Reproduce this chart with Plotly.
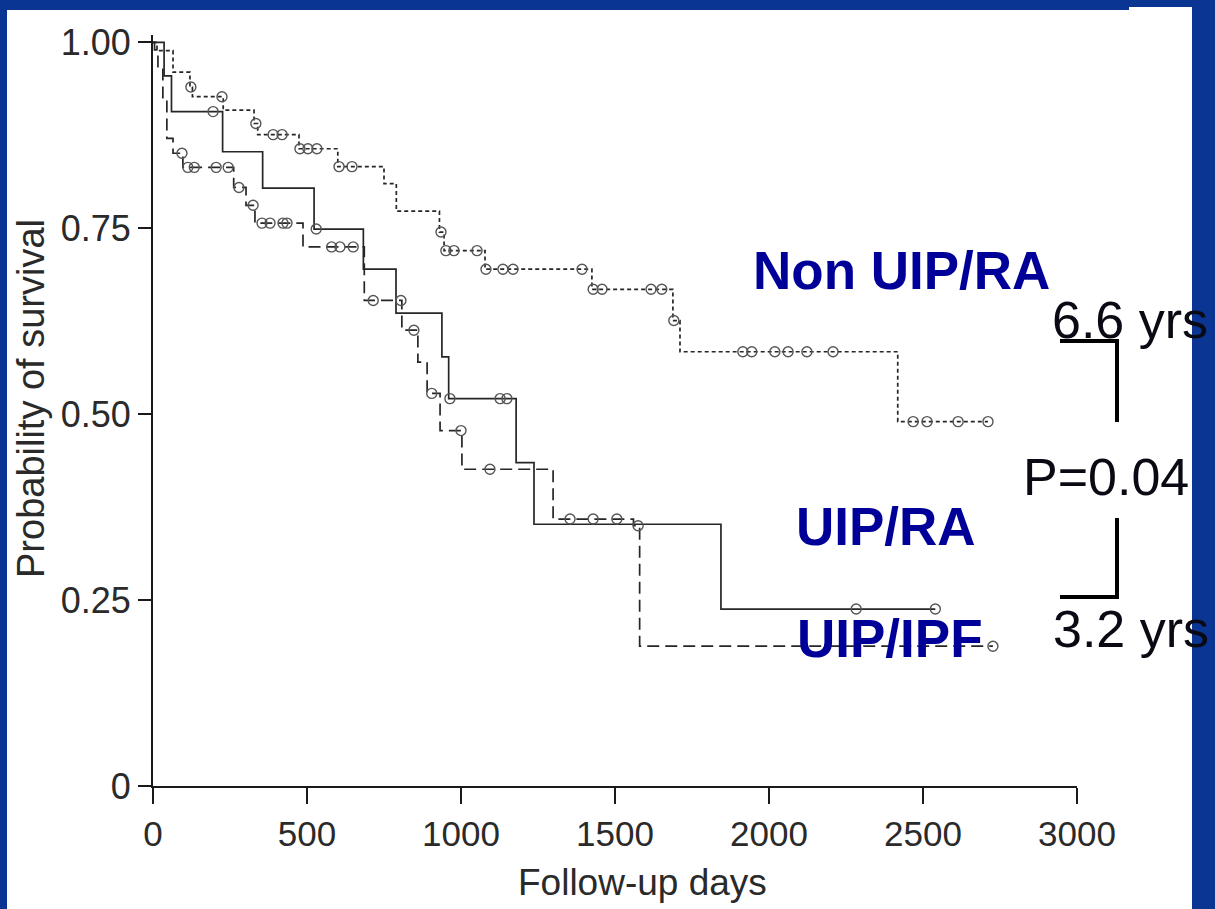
import plotly.graph_objects as go

# ---------------- data ----------------
# Non UIP/RA  (short dashes)
nonuip_t = [0, 13, 65, 120, 128, 228, 328, 340, 474, 600, 750, 790, 930, 945, 1078, 1425, 1688, 1711, 2418]
nonuip_s = [1.0, 0.989, 0.96, 0.94, 0.927, 0.909, 0.891, 0.876, 0.857, 0.833, 0.81, 0.773, 0.745, 0.72, 0.695, 0.668, 0.626, 0.584, 0.49]
nonuip_cens = [123, 224, 334, 390, 419, 477, 503, 532, 604, 646, 935, 951, 977, 1052, 1081, 1136, 1169, 1393,
               1429, 1458, 1617, 1652, 1691, 1915, 1944, 2019, 2062, 2123, 2208, 2468, 2513, 2614, 2711]

# UIP/RA (solid)
uipra_t = [0, 36, 60, 226, 356, 523, 683, 789, 938, 960, 1179, 1237, 1844]
uipra_s = [1.0, 0.955, 0.907, 0.853, 0.804, 0.749, 0.695, 0.636, 0.577, 0.521, 0.435, 0.352, 0.238]
uipra_cens = [195, 530, 964, 1127, 1149, 2283, 2540]

# UIP/IPF (long dashes)
ipf_t = [0, 5, 16, 32, 45, 65, 97, 262, 302, 331, 487, 686, 808, 860, 890, 932, 1003, 1299, 1560, 1580]
ipf_s = [1.0, 0.99, 0.965, 0.922, 0.871, 0.851, 0.832, 0.805, 0.781, 0.757, 0.725, 0.653, 0.613, 0.57, 0.528, 0.478, 0.426, 0.359, 0.35, 0.188]
ipf_cens = [94, 113, 134, 205, 244, 279, 325, 354, 380, 422, 435, 580, 607, 650, 715, 805, 847, 905, 1000, 1094,
            1354, 1429, 1506, 1575, 2727]

x_ticks = [0, 500, 1000, 1500, 2000, 2500, 3000]
y_ticks = [0, 0.25, 0.5, 0.75, 1.0]
y_ticktext = ["0", "0.25", "0.50", "0.75", "1.00"]

W, H = 1215, 909
L, R, T, B = 153, 1077, 35, 786
BLUE = "#0b3592"
FONT = "Liberation Sans, Arial, sans-serif"
LINE = "#262626"
CENS = "#555555"


def surv_at(ts, ss, t):
    v = ss[0]
    for ti, si in zip(ts, ss):
        if ti <= t:
            v = si
    return v


def px(xp):
    return (xp - L) / (R - L)


def py(yp):
    return (B - yp) / (B - T)


fig = go.Figure()

curves = [
    (nonuip_t, nonuip_s, nonuip_cens, "4px,3px"),
    (uipra_t, uipra_s, uipra_cens, "solid"),
    (ipf_t, ipf_s, ipf_cens, "12px,6px"),
]
for ts, ss, cens, dash in curves:
    end = max(max(cens), ts[-1])
    fig.add_trace(go.Scatter(
        x=ts + [end], y=ss + [ss[-1]], mode="lines", line_shape="hv",
        line=dict(color=LINE, width=1.7, dash=dash), hoverinfo="skip", showlegend=False))
    fig.add_trace(go.Scatter(
        x=cens, y=[surv_at(ts, ss, c) for c in cens], mode="markers",
        marker=dict(symbol="circle-open", size=10, color=CENS, line=dict(width=1.4, color=CENS)),
        hoverinfo="skip", showlegend=False, cliponaxis=False))

shapes = [
    # white slide panel
    dict(type="rect", xref="paper", yref="paper", x0=px(7), x1=px(1192), y0=py(H + 5), y1=py(10),
         fillcolor="white", line=dict(width=0), layer="below"),
    dict(type="rect", xref="paper", yref="paper", x0=px(1129), x1=px(1192), y0=py(20), y1=py(7),
         fillcolor="white", line=dict(width=0), layer="below"),
    # bracket lines
    dict(type="line", xref="paper", yref="paper", x0=px(1060), x1=px(1119), y0=py(341), y1=py(341),
         line=dict(color="black", width=4)),
    dict(type="line", xref="paper", yref="paper", x0=px(1117), x1=px(1117), y0=py(339), y1=py(422),
         line=dict(color="black", width=4)),
    dict(type="line", xref="paper", yref="paper", x0=px(1117), x1=px(1117), y0=py(518), y1=py(599),
         line=dict(color="black", width=4)),
    dict(type="line", xref="paper", yref="paper", x0=px(1060), x1=px(1119), y0=py(597), y1=py(597),
         line=dict(color="black", width=4)),
]

labels = [
    ("Non UIP/RA", 901, 270, 53, True, "#000099"),
    ("UIP/RA", 886, 526, 53, True, "#000099"),
    ("UIP/IPF", 890, 638, 53, True, "#000099"),
    ("6.6 yrs", 1130, 320, 52, False, "#0a0a14"),
    ("P=0.04", 1106, 477, 52, False, "#0a0a14"),
    ("3.2 yrs", 1131, 629, 52, False, "#0a0a14"),
    ("Follow-up days", 642, 882, 37, False, "#2a2a2a"),
]
annotations = []
for txt, xx, yy, fs, bold, col in labels:
    annotations.append(dict(
        text=f"<b>{txt}</b>" if bold else txt, xref="paper", yref="paper", x=px(xx), y=py(yy),
        xanchor="center", yanchor="middle", showarrow=False,
        font=dict(family=FONT, size=fs, color=col)))
annotations.append(dict(
    text="Probability of survival", xref="paper", yref="paper", x=px(31), y=py(399),
    xanchor="center", yanchor="middle", textangle=-90, showarrow=False,
    font=dict(family=FONT, size=38, color="#2a2a2a")))

fig.update_layout(
    width=W, height=H, paper_bgcolor=BLUE, plot_bgcolor="rgba(0,0,0,0)",
    margin=dict(l=L, r=W - R, t=T, b=H - B, pad=0),
    shapes=shapes, annotations=annotations, showlegend=False,
    font=dict(family=FONT, color="#2a2a2a"),
)
fig.update_xaxes(
    range=[0, 3000], tickvals=x_ticks, showgrid=False, zeroline=False,
    showline=True, linecolor="#1a1a1a", linewidth=2,
    ticks="outside", ticklen=16, tickwidth=2, tickcolor="#1a1a1a",
    tickfont=dict(family=FONT, size=35, color="#2a2a2a"))
fig.update_yaxes(
    range=[0, 1.01], tickvals=y_ticks, ticktext=y_ticktext, showgrid=False, zeroline=False,
    showline=True, linecolor="#1a1a1a", linewidth=2,
    ticks="outside", ticklen=13, tickwidth=2, tickcolor="#1a1a1a",
    tickfont=dict(family=FONT, size=36, color="#2a2a2a"))

fig.write_html("out.html")
